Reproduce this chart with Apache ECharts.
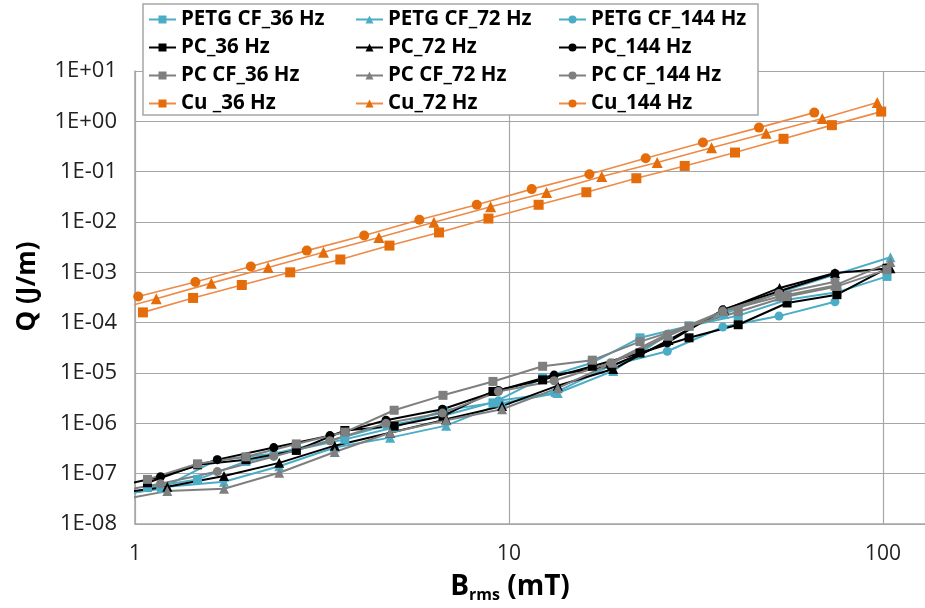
<!DOCTYPE html>
<html lang="en">
<head>
<meta charset="UTF-8">
<title>Q vs Brms</title>
<script src="https://cdn.jsdelivr.net/npm/echarts@6/dist/echarts.min.js"></script>
<style>
  html, body { margin: 0; padding: 0; background: #fff; }
  #main { width: 925px; height: 608px; }
</style>
</head>
<body>
<div id="main"></div>
<script>
    // B_rms (mT) per material / frequency
    var bCu36  = [1.05, 1.43, 1.93, 2.60, 3.54, 4.79, 6.50, 8.81, 12.0, 16.1, 21.9, 29.5, 40.2, 54.2, 73.0, 98.9];
    var bCu72  = [0.81, 1.14, 1.60, 2.27, 3.19, 4.49, 6.30, 8.93, 12.6, 17.7, 24.9, 34.8, 48.7, 68.8, 96.5];
    var bCu144 = [1.02, 1.45, 2.04, 2.88, 4.10, 5.76, 8.20, 11.5, 16.4, 23.2, 33.0, 46.6, 65.5];
    var bP36   = [1.08, 1.47, 1.98, 2.70, 3.64, 4.93, 6.66, 9.06, 12.3, 16.7, 22.4, 30.3, 41.0, 55.4, 75.3, 102.5];
    var bP72   = [0.865, 1.22, 1.73, 2.43, 3.42, 4.81, 6.79, 9.58, 13.5, 19.0, 26.7, 37.6, 52.9, 74.4, 104.7];
    var bP144  = [0.83, 1.17, 1.66, 2.35, 3.32, 4.69, 6.64, 9.37, 13.2, 18.7, 26.5, 37.3, 52.7, 74.4];

    // Q (J/m)
    var qPetg36  = [5.3e-8, 7.7e-8, 1.75e-7, 3.0e-7, 4.8e-7, 8.3e-7, 1.8e-6, 2.55e-6, 8.0e-6, 1.6e-5, 5.0e-5, 8.6e-5, 1.38e-4, 2.86e-4, 4.0e-4, 8.3e-4];
    var qPetg72  = [3.5e-8, 5.5e-8, 6.9e-8, 1.4e-7, 3.3e-7, 5.2e-7, 9.0e-7, 2.5e-6, 4.0e-6, 1.1e-5, 6.0e-5, 1.5e-4, 4.0e-4, 9.0e-4, 2.0e-3];
    var qPetg144 = [3.5e-8, 5.0e-8, 1.9e-7, 2.5e-7, 4.5e-7, 9.0e-7, 1.4e-6, 2.8e-6, 4.0e-6, 1.4e-5, 2.7e-5, 8.2e-5, 1.35e-4, 2.6e-4];
    var qPc36    = [6.6e-8, 1.5e-7, 1.9e-7, 2.9e-7, 7.2e-7, 8.8e-7, 1.4e-6, 4.3e-6, 7.3e-6, 1.36e-5, 2.5e-5, 5.0e-5, 9.1e-5, 2.46e-4, 3.6e-4, 1.2e-3];
    var qPc72    = [4.0e-8, 5.5e-8, 9.0e-8, 1.64e-7, 3.6e-7, 6.5e-7, 1.2e-6, 2.2e-6, 5.6e-6, 1.2e-5, 4.5e-5, 1.8e-4, 4.9e-4, 9.7e-4, 1.2e-3];
    var qPc144   = [5.0e-8, 8.7e-8, 1.9e-7, 3.3e-7, 5.7e-7, 1.15e-6, 1.9e-6, 4.5e-6, 9.1e-6, 1.36e-5, 4.0e-5, 1.8e-4, 4.2e-4, 9.5e-4];
    var qPccf36  = [7.7e-8, 1.57e-7, 2.16e-7, 3.9e-7, 6.7e-7, 1.82e-6, 3.6e-6, 6.8e-6, 1.36e-5, 1.8e-5, 4.2e-5, 8.5e-5, 1.65e-4, 3.3e-4, 5.25e-4, 1.13e-3];
    var qPccf72  = [2.8e-8, 4.5e-8, 5.0e-8, 1.04e-7, 2.7e-7, 6.5e-7, 1.15e-6, 1.9e-6, 5.0e-6, 1.6e-5, 5.5e-5, 1.7e-4, 3.3e-4, 5.5e-4, 1.6e-3];
    var qPccf144 = [4.0e-8, 6.3e-8, 1.1e-7, 2.2e-7, 4.5e-7, 1.0e-6, 1.6e-6, 4.3e-6, 7.0e-6, 1.6e-5, 5.9e-5, 1.7e-4, 3.8e-4, 6.5e-4];
    var qCu36    = [1.6e-4, 3.1e-4, 5.6e-4, 1.0e-3, 1.8e-3, 3.4e-3, 6.2e-3, 1.17e-2, 2.2e-2, 3.9e-2, 7.4e-2, 0.13, 0.24, 0.45, 0.84, 1.56];
    var qCu72    = [1.5e-4, 3.0e-4, 6.1e-4, 1.25e-3, 2.5e-3, 4.9e-3, 9.9e-3, 2.0e-2, 3.85e-2, 8.0e-2, 0.152, 0.30, 0.58, 1.14, 2.37];
    var qCu144   = [3.3e-4, 6.4e-4, 1.31e-3, 2.7e-3, 5.4e-3, 1.11e-2, 2.2e-2, 4.5e-2, 8.9e-2, 0.185, 0.38, 0.75, 1.49];

    // legend columns (one per frequency)
    var col36  = ['PETG CF_36 Hz', 'PC_36 Hz', 'PC CF_36 Hz', 'Cu _36 Hz'];
    var col72  = ['PETG CF_72 Hz', 'PC_72 Hz', 'PC CF_72 Hz', 'Cu_72 Hz'];
    var col144 = ['PETG CF_144 Hz', 'PC_144 Hz', 'PC CF_144 Hz', 'Cu_144 Hz'];

    var CYAN = '#4BACC6', BLACK = '#000000', GRAY = '#7F7F7F', ORANGE = '#E46C0A';

    function zip(xs, ys) {
        var out = [];
        for (var i = 0; i < xs.length; i++) out.push([xs[i], ys[i]]);
        return out;
    }

    function mkSeries(name, xs, ys, symbol, color, isCu) {
        return {
            name: name,
            type: 'line',
            data: zip(xs, ys),
            symbol: symbol,
            symbolSize: isCu ? (symbol == 'triangle' ? 11 : 10) : (symbol == 'triangle' ? 10 : 9),
            clip: true,
            itemStyle: { color: color },
            lineStyle: { color: isCu ? '#EE8A45' : color, width: isCu ? 1.6 : 2 },
            emphasis: { disabled: true }
        };
    }

    var series = [
        mkSeries('PETG CF_36 Hz', bP36, qPetg36, 'rect', CYAN),
        mkSeries('PETG CF_72 Hz', bP72, qPetg72, 'triangle', CYAN),
        mkSeries('PETG CF_144 Hz', bP144, qPetg144, 'circle', CYAN),
        mkSeries('PC_36 Hz', bP36, qPc36, 'rect', BLACK),
        mkSeries('PC_72 Hz', bP72, qPc72, 'triangle', BLACK),
        mkSeries('PC_144 Hz', bP144, qPc144, 'circle', BLACK),
        mkSeries('PC CF_36 Hz', bP36, qPccf36, 'rect', GRAY),
        mkSeries('PC CF_72 Hz', bP72, qPccf72, 'triangle', GRAY),
        mkSeries('PC CF_144 Hz', bP144, qPccf144, 'circle', GRAY),
        mkSeries('Cu _36 Hz', bCu36, qCu36, 'rect', ORANGE, true),
        mkSeries('Cu_72 Hz', bCu72, qCu72, 'triangle', ORANGE, true),
        mkSeries('Cu_144 Hz', bCu144, qCu144, 'circle', ORANGE, true)
    ];

    function legendCol(names, left) {
        return {
            data: names,
            orient: 'vertical',
            left: left,
            top: 4,
            itemWidth: 27,
            itemHeight: 10,
            itemGap: 7,
            selectedMode: false,
            z: 20,
            textStyle: { fontFamily: 'Open Sans', fontWeight: 'bold', fontSize: 20.5, color: '#000' }
        };
    }

    var myChart = echarts.init(document.getElementById('main'));
    var option = {
        animation: false,
        backgroundColor: '#fff',
        grid: { left: 135, right: 0, top: 71, bottom: 83 },
        legend: [legendCol(col36, 143), legendCol(col72, 350), legendCol(col144, 553)],
        graphic: [{
            type: 'rect',
            z: 10,
            shape: { x: 143, y: 4, width: 615, height: 111 },
            style: { fill: '#fff', stroke: '#A6A6A6', lineWidth: 1.5 }
        }],
        xAxis: {
            type: 'log',
            logBase: 10,
            min: 1,
            max: 129.5,
            name: '{b|B}{s|rms}{b| (mT)}',
            nameLocation: 'middle',
            nameGap: 48,
            nameTextStyle: {
                padding: [0, 40, 0, 0],
                rich: {
                    b: { fontFamily: 'Open Sans', fontWeight: 'bold', fontSize: 28, color: '#000' },
                    s: { fontFamily: 'Open Sans', fontWeight: 'bold', fontSize: 16, color: '#000', padding: [15, 0, 0, 0] }
                }
            },
            axisLine: { show: true, lineStyle: { color: '#A6A6A6', width: 1.5 } },
            axisTick: { show: false },
            splitLine: { show: true, lineStyle: { color: '#A6A6A6', width: 1.2 } },
            axisLabel: {
                showMinLabel: true,
                showMaxLabel: false,
                margin: 20,
                fontFamily: 'Open Sans', fontSize: 21, color: '#222',
                formatter: function (v) { return String(Math.round(v)); }
            }
        },
        yAxis: {
            type: 'log',
            logBase: 10,
            min: 1e-8,
            max: 10,
            name: 'Q (J/m)',
            nameLocation: 'middle',
            nameGap: 94,
            nameTextStyle: { fontFamily: 'Open Sans', fontWeight: 'bold', fontSize: 26, color: '#000', padding: [0, 0, 0, 22] },
            axisLine: { show: true, lineStyle: { color: '#A6A6A6', width: 1.5 } },
            axisTick: { show: false },
            splitLine: { show: true, lineStyle: { color: '#A6A6A6', width: 1.2 } },
            axisLabel: {
                margin: 18,
                fontFamily: 'Open Sans', fontSize: 22, color: '#222',
                formatter: function (v) {
                    var e = Math.round(Math.log10(v));
                    var a = Math.abs(e);
                    return '1E' + (e < 0 ? '-' : '+') + (a < 10 ? '0' : '') + a;
                }
            }
        },
        series: series
    };
    myChart.setOption(option);
</script>
</body>
</html>
